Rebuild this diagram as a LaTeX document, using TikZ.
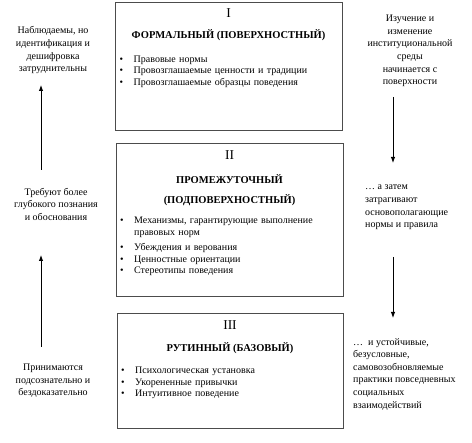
\documentclass[tikz,border=0pt]{standalone}
\usepackage{fontspec}
\setmainfont{Liberation Serif}
\usetikzlibrary{arrows.meta}
\usetikzlibrary{positioning}

\newcommand\bul[1]{\par\noindent\makebox[14pt][l]{\textbullet}#1}
\newcommand\cont[1]{\par\noindent\hspace*{14pt}#1}

\tikzset{
  level/.style={draw=black!70, line width=0.8pt, anchor=north west, inner sep=0pt},
  numeral/.style={anchor=base, inner sep=0pt, font=\fontsize{13.5}{15}\selectfont},
  heading/.style={anchor=base, inner sep=0pt, align=center, font=\fontsize{10.5}{20}\selectfont\bfseries},
  items/.style={anchor=north west, inner sep=0pt, text width=215pt, align=left, font=\fontsize{10}{11.5}\selectfont},
  note/.style={inner sep=0pt, font=\fontsize{10}{12.6}\selectfont},
  arr/.style={line width=0.9pt, -{Latex[length=6pt,width=4.5pt]}}
}

\begin{document}
\begin{tikzpicture}[x=1pt, y=-1pt]
\useasboundingbox (0,0) rectangle (472,443);

%level I
\node[level, minimum width=227pt, minimum height=128pt] (formal) at (115,2) {};
\node[numeral] (n1) at (228.5,17.5) {I};
\node[heading] (t1) at (228.5,38.5) {ФОРМАЛЬНЫЙ (ПОВЕРХНОСТНЫЙ)};
\node[items] (b1) at (119.5,50.5) {\bul{Правовые нормы}\bul{Провозглашаемые ценности и традиции}\bul{Провозглашаемые образцы поведения}};

%level II
\node[level, minimum width=227pt, minimum height=153pt] (middle) at (116,143) {};
\node[numeral] (n2) at (229.5,159.5) {II};
\node[heading] (t2) at (229.5,203.3) {ПРОМЕЖУТОЧНЫЙ\\(ПОДПОВЕРХНОСТНЫЙ)};
\node[items] (b2) at (120,212) {\bul{Механизмы, гарантирующие выполнение}\cont{правовых норм}\vspace{4pt}\bul{Убеждения и верования}\bul{Ценностные ориентации}\bul{Стереотипы поведения}};

%level III
\node[level, minimum width=226pt, minimum height=115pt] (routine) at (117,313) {};
\node[numeral] (n3) at (230,329.5) {III};
\node[heading] (t3) at (230,351.3) {РУТИННЫЙ (БАЗОВЫЙ)};
\node[items] (b3) at (121,362) {\bul{Психологическая установка}\bul{Укорененные привычки}\bul{Интуитивное поведение}};

%left column
\node[note, align=center, anchor=north] (seen) at (53,26.5) {Наблюдаемы, но\\идентификация и\\дешифровка\\затруднительны};
\node[note, align=center, anchor=north] (deep) at (56,188) {Требуют более\\глубокого познания\\и обоснования};
\node[note, align=center, anchor=north] (taken) at (53,364) {Принимаются\\подсознательно и\\бездоказательно};
\coordinate (l1a) at (41,170);
\coordinate (l1b) at (41,85);
\coordinate (l2a) at (41,347);
\coordinate (l2b) at (41,255);
\draw[arr] (l1a) -- (l1b);
\draw[arr] (l2a) -- (l2b);

%right column
\node[note, align=center, anchor=north] (study) at (410,15) {Изучение и\\изменение\\институциональной\\среды\\начинается с\\поверхности};
\node[note, align=left, anchor=north west] (then) at (365,185) {\dots{} а затем\\затрагивают\\основополагающие\\нормы и правила};
\node[note, align=left, anchor=north west] (stable) at (353,338) {\dots{}\ \ и устойчивые,\\безусловные,\\самовозобновляемые\\практики повседневных\\социальных\\взаимодействий};
\coordinate (r1a) at (393,97);
\coordinate (r1b) at (393,163);
\coordinate (r2a) at (393,257);
\coordinate (r2b) at (393,318);
\draw[arr] (r1a) -- (r1b);
\draw[arr] (r2a) -- (r2b);
\end{tikzpicture}
\end{document}
